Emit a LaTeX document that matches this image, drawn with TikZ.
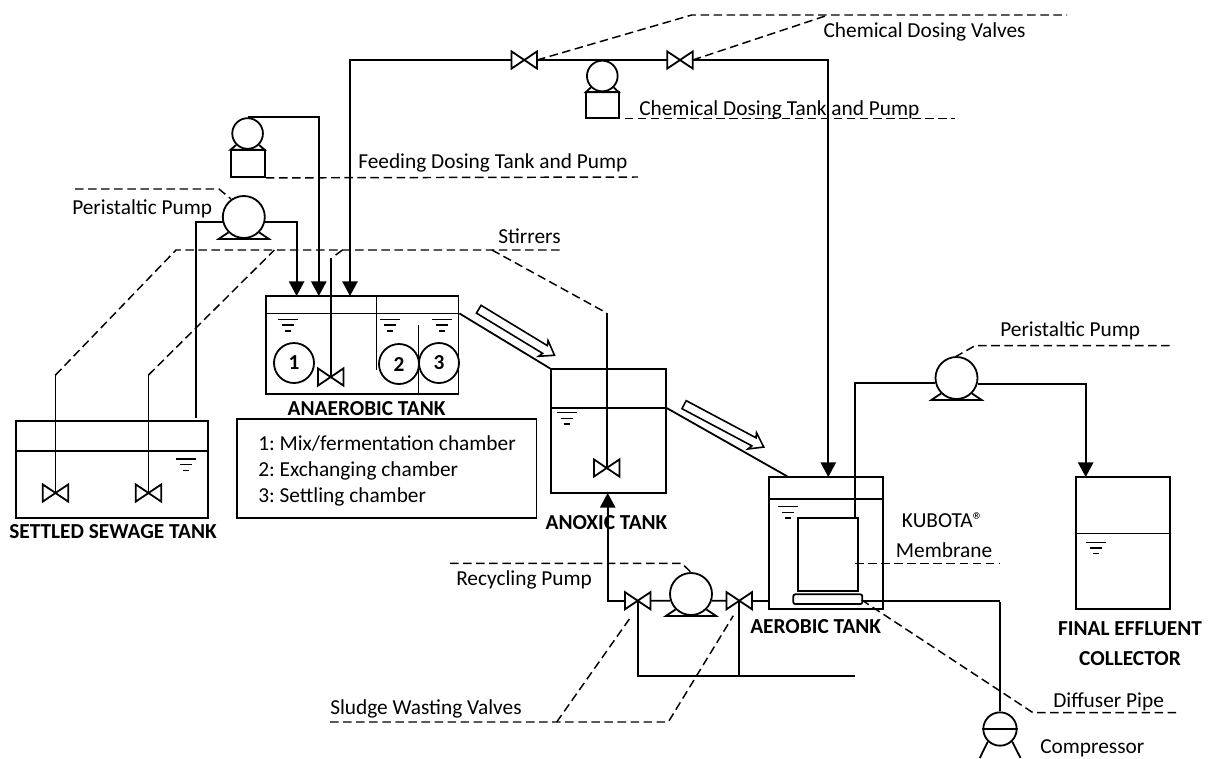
\documentclass[tikz,border=0pt]{standalone}
\usepackage{fontspec}
\setmainfont{Carlito}
\frenchspacing
\usetikzlibrary{arrows.meta,positioning,calc,shapes.arrows}
\tikzset{
  tank/.style={rectangle, draw, line width=1.35pt, inner sep=0pt},
  pump/.style={circle, draw, line width=1.35pt, inner sep=0pt, minimum size=31.5pt},
  smallpump/.style={circle, draw, line width=1.35pt, inner sep=0pt, minimum size=23pt},
  valvebox/.style={inner sep=0pt, minimum width=18.75pt, minimum height=12.5pt},
  chamber/.style={circle, draw, line width=1.35pt, inner sep=0pt, minimum size=30pt,
                  font=\fontsize{16}{19}\selectfont\bfseries},
  pipe/.style={line width=1.35pt},
  flow/.style={line width=1.35pt, -{Triangle[length=11pt,width=11.5pt]}},
  leader/.style={line width=1.1pt, dash pattern=on 6.4pt off 3.4pt},
  blockarrow/.style={single arrow, draw, line width=1.2pt, inner xsep=0pt, inner ysep=2.8pt, anchor=tip,
                     minimum width=12.6pt, single arrow head extend=3.5pt,
                     single arrow head indent=1.5pt, single arrow tip angle=70},
  lbl/.style={anchor=base west, inner sep=0pt, font=\fontsize{16}{19}\selectfont},
  tanklbl/.style={anchor=base, inner sep=0pt, font=\fontsize{16}{19}\selectfont\bfseries},
  waterlevel/.pic={\draw[line width=1.1pt] (-10,0) -- (10,0) (-6,5.7) -- (6,5.7) (-3,11.4) -- (3,11.4);},
}
\newcommand{\valve}[2]{\node[valvebox] (#1) at (#2) {};
  \draw[pipe] (#1.north west) -- (#1.south east) -- (#1.north east) -- (#1.south west) -- cycle;}
\newcommand{\pumpfoot}[2]{\draw[pipe] (#1.225) -- ($(#1.south)+(-#2,0)$) -- ($(#1.south)+(#2,0)$) -- (#1.315);}
\begin{document}
\begin{tikzpicture}[x=0.75pt,y=-0.75pt]
  \useasboundingbox (0,0) rectangle (1229,758);
  % tanks
  \node[tank, minimum width=144.2pt, minimum height=72.75pt] (settled) at (111.9,469.5) {};
  \node[tank, minimum width=144.4pt, minimum height=73.5pt] (anaerobic) at (362.2,345) {};
  \node[tank, minimum width=86.25pt, minimum height=92.8pt] (anoxic) at (608.5,431.2) {};
  \node[tank, minimum width=85.3pt, minimum height=99pt] (aerobic) at (825.8,543.3) {};
  \node[tank, minimum width=70.7pt, minimum height=99pt] (final) at (1123.2,543) {};
  \node[tank, minimum width=45.5pt, minimum height=54.3pt] (membrane) at (828,554.5) {};
  \node[tank, rounded corners=1.5pt, minimum width=51.75pt, minimum height=7.3pt] (diffuser) at (827.8,599.2) {};
  \node[tank, minimum width=224.6pt, minimum height=74.25pt] (legend) at (386.7,468.5) {};
  \node[anchor=west, inner sep=0pt, align=left, font=\fontsize{16}{19.5}\selectfont] (legendText) at (258,471)
    {1: Mix/fermentation chamber\\2: Exchanging chamber\\3: Settling chamber};
  % water lines
  \draw[pipe] (settled.north west) ++(0,31) -- ++(192.3,0);
  \draw[pipe] (anaerobic.north west) ++(0,18.3) -- ++(192.5,0);
  \draw[pipe] (anoxic.north west) ++(0,39.7) -- ++(115,0);
  \draw[pipe] (aerobic.north west) ++(0,22.7) -- ++(113.7,0);
  \draw[pipe] (final.north west) ++(0,57.3) -- ++(94.3,0);
  \pic at (186,459) {waterlevel};
  \pic at (287.5,319.5) {waterlevel};
  \pic at (390,319.5) {waterlevel};
  \pic at (442.4,319.5) {waterlevel};
  \pic at (566.5,412.7) {waterlevel};
  \pic at (787.7,506.7) {waterlevel};
  \pic at (1096,542.3) {waterlevel};
  % anaerobic chambers
  \draw[pipe] (anaerobic.north west) ++(111.4,0) -- ++(0,74.7);
  \draw[pipe] (anaerobic.north west) ++(153.4,29.7) -- ++(0,68.3);
  \node[chamber] (chamA) at (294,363) {1};
  \node[chamber] (chamB) at (399,364) {2};
  \node[chamber] (chamC) at (439,363) {3};
  % pumps
  \node[pump] (perA) at (243.8,217) {};
  \node[pump] (perB) at (956.5,378) {};
  \node[pump] (recP) at (691,594) {};
  \node[smallpump] (dosA) at (247.6,133.5) {};
  \node[smallpump] (dosC) at (602.3,76) {};
  \node[tank, minimum width=25.5pt, minimum height=20.25pt] (dosAbox) at (248,163.5) {};
  \node[tank, minimum width=25pt, minimum height=20pt] (dosCbox) at (602.3,105) {};
  \node[circle, draw, line width=1.35pt, inner sep=0pt, minimum size=25pt] (comp) at (1000,729) {};
  \pumpfoot{perA}{25}
  \pumpfoot{perB}{25}
  \pumpfoot{recP}{25}
  \pumpfoot{dosA}{17}
  \pumpfoot{dosC}{16.5}
  \draw[pipe] (comp.west) -- (comp.east);
  \draw[pipe] (comp.226) -- ++(-8,16.3) (comp.-46) -- ++(8.3,16.3);
  % valves
  \valve{vSetA}{55.5,493}
  \valve{vSetB}{148.5,493}
  \valve{vAna}{330.7,377}
  \valve{vAno}{606.7,468}
  \valve{vChemA}{524.3,60}
  \valve{vChemB}{680,60}
  \valve{vRecA}{637.7,600.7}
  \valve{vRecB}{739.3,600.7}
  % pipe ends
  \coordinate (setOut) at (196.3,418);
  \coordinate (inA) at (296.6,296);
  \coordinate (inB) at (318.8,296);
  \coordinate (inC) at (350,296);
  \coordinate (inD) at (828.3,477);
  \coordinate (inF) at (1085.7,477);
  \coordinate (inAno) at (607.7,493);
  \coordinate (memOut) at (855,518.3);
  \coordinate (sludgeEnd) at (855,675.7);
  \coordinate (airCorner) at (1000,601);
  \coordinate (shaftA) at (55.5,375);
  \coordinate (shaftB) at (148.5,375);
  \coordinate (shaftC) at (330.7,258);
  \coordinate (shaftD) at (606.7,313);
  % pipes
  \draw[pipe] (perA.194) -| (setOut);
  \draw[flow] (perA.-14) -| (inA);
  \draw[flow] (dosA.north) -| (inB);
  \draw[flow] (vChemA.west) -| (inC);
  \draw[pipe] (vChemA.east) -- (vChemB.west);
  \draw[flow] (vChemB.east) -| (inD);
  \draw[pipe] (memOut) |- (perB.194);
  \draw[flow] (perB.-15) -| (inF);
  \draw[flow] (vRecA.west) -| (inAno);
  \draw[pipe] (vRecA.east) -- (recP.198);
  \draw[pipe] (recP.-18) -- (vRecB.west);
  \draw[pipe] (vRecB.east) -- (aerobic.west |- vRecB);
  \draw[pipe] (vRecA.center) |- (sludgeEnd);
  \draw[pipe] (vRecB.center) -- (vRecB |- sludgeEnd);
  \draw[pipe] (diffuser.east |- airCorner) -- (airCorner);
  \draw[pipe] (comp.north) -- ++(0,-109.4);
  % stirrer shafts
  \draw[pipe] (shaftA) -- (vSetA.center);
  \draw[pipe] (shaftB) -- (vSetB.center);
  \draw[pipe] (shaftC) -- (vAna.center);
  \draw[pipe] (shaftD) -- (vAno.center);
  % overflow lines and flow direction
  \draw[pipe] ($(anaerobic.north east)+(0,18.3)$) -- (anoxic.north west);
  \draw[pipe] ($(anoxic.north east)+(0,39.7)$) -- ($(aerobic.north west)+(19.3,0)$);
  \node[blockarrow, minimum height=66.5pt, rotate=-31.3] (flowA) at (555.7,356) {};
  \node[blockarrow, minimum height=67.7pt, rotate=-28] (flowB) at (765,447.7) {};
  % leaders
  \draw[leader] (75,189) -- (219,189) -- (231,199);
  \draw[leader] (dosAbox.south east) -- (638,177);
  \draw[leader] (shaftA) -- (176,250) -- (492,250) -- (562.6,250);
  \draw[leader] (shaftB) -- (274.4,250);
  \draw[leader] (335.6,255) -- (342.5,250);
  \draw[leader] (492,250) -- (shaftD);
  \draw[leader] (vChemA.east) -- (691.7,15) -- (1067,15);
  \draw[leader] (vChemB.east) -- (828.3,15);
  \draw[leader] (624.7,118.3) -- (955,118.3);
  \draw[leader] (955,357) -- (975,345.7) -- (1170,345.7);
  \draw[leader] (855,563.3) -- (1000,563.3);
  \draw[leader] (450,563.3) -- (681.7,563.3) -- (691.7,573);
  \draw[leader] (330,722) -- (668.3,722) -- (733.3,615.7);
  \draw[leader] (556.7,722) -- (631.7,615.7);
  \draw[leader] (861.7,600) -- (1033,712.7) -- (1180,712.7);
  % labels
  \node[lbl] (lblPerA) at (72,214) {Peristaltic Pump};
  \node[lbl] (lblPerB) at (1000,336) {Peristaltic Pump};
  \node[lbl] (lblFeed) at (358,168) {Feeding Dosing Tank and Pump};
  \node[lbl] (lblChem) at (639,115.5) {Chemical Dosing Tank and Pump};
  \node[lbl] (lblValves) at (823.3,37) {Chemical Dosing Valves};
  \node[lbl] (lblStir) at (498,243.5) {Stirrers};
  \node[lbl] (lblRec) at (456,585.5) {Recycling Pump};
  \node[lbl] (lblSludge) at (330,714.5) {Sludge Wasting Valves};
  \node[lbl] (lblDiff) at (1053,707.5) {Diffuser Pipe};
  \node[lbl] (lblComp) at (1040,753) {Compressor};
  \node[lbl] (lblKub) at (901.7,527) {KUBOTA®};
  \node[lbl] (lblMem) at (895.7,557) {Membrane};
  \node[tanklbl] (lblSettled) at (113,538.5) {SETTLED SEWAGE TANK};
  \node[tanklbl] (lblAna) at (366.6,415) {ANAEROBIC TANK};
  \node[tanklbl] (lblAno) at (606.5,529) {ANOXIC TANK};
  \node[tanklbl] (lblAer) at (815.7,633) {AEROBIC TANK};
  \node[tanklbl] (lblFinalA) at (1130,635) {FINAL EFFLUENT};
  \node[tanklbl] (lblFinalB) at (1130,665) {COLLECTOR};
\end{tikzpicture}
\end{document}
